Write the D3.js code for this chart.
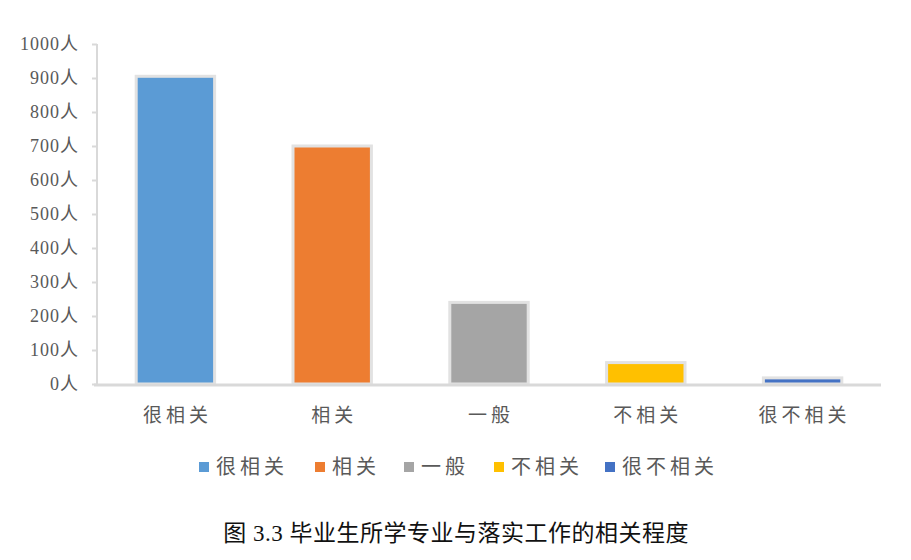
<!DOCTYPE html>
<html>
<head>
<meta charset="utf-8">
<script src="https://cdn.jsdelivr.net/npm/d3@7"></script>
<style>
  body { margin: 0; background: #fff; }
  text { font-family: "Liberation Serif", "Noto Sans CJK SC", serif; }
</style>
</head>
<body>
<div id="chart"></div>
<script>
// data
var categories = ["很相关", "相关", "一般", "不相关", "很不相关"];
var counts = [905, 700, 240, 63, 18];
var colors = ["#5B9BD5", "#ED7D31", "#A5A5A5", "#FFC000", "#4472C4"];
var yTicks = [0, 100, 200, 300, 400, 500, 600, 700, 800, 900, 1000];
var caption = "图 3.3 毕业生所学专业与落实工作的相关程度";

var width = 911, height = 560;
var plot = {left: 97, right: 881, top: 44, bottom: 384};

var svg = d3.select("#chart").append("svg")
    .attr("width", width)
    .attr("height", height);

var x = d3.scaleBand()
    .domain(categories)
    .range([plot.left, plot.right])
    .paddingInner(0.5)
    .paddingOuter(0.25);

var y = d3.scaleLinear()
    .domain([0, 1000])
    .range([plot.bottom, plot.top]);

// y axis
var yAxis = svg.append("g")
    .attr("transform", "translate(" + plot.left + ",0)")
    .call(d3.axisLeft(y).tickValues(yTicks).tickSize(5).tickPadding(6)
          .tickFormat(function(d) { return d + "人"; }));
yAxis.selectAll("line").attr("stroke", "#d9d9d9").attr("stroke-width", 2);
yAxis.select(".domain").attr("stroke", "#d9d9d9").attr("stroke-width", 2).attr("d", "M0," + plot.top + "V" + plot.bottom);
yAxis.selectAll("text")
    .attr("fill", "#595959")
    .style("font-size", "18px")
    .style("letter-spacing", "1px")
    .attr("dx", "-7");

// bars, with the light border the original has
svg.append("g").selectAll("rect")
    .data(categories)
    .enter().append("rect")
    .attr("x", function(d) { return x(d); })
    .attr("y", function(d, i) { return y(counts[i]); })
    .attr("width", x.bandwidth())
    .attr("height", function(d, i) { return plot.bottom - y(counts[i]); })
    .attr("fill", function(d, i) { return colors[i]; })
    .attr("stroke", "#e2e2e2")
    .attr("stroke-width", 3);

// x axis baseline
svg.append("line")
    .attr("x1", plot.left - 3).attr("x2", plot.right)
    .attr("y1", plot.bottom + 1).attr("y2", plot.bottom + 1)
    .attr("stroke", "#d9d9d9")
    .attr("stroke-width", 3);

// category labels
svg.append("g").selectAll("text")
    .data(categories)
    .enter().append("text")
    .attr("x", function(d) { return x(d) + x.bandwidth() / 2 + 2; })
    .attr("y", 422)
    .attr("text-anchor", "middle")
    .attr("fill", "#595959")
    .style("font-size", "19px")
    .style("letter-spacing", "4px")
    .text(function(d) { return d; });

// legend
var legendX = [199, 315, 404, 494, 605];
var legend = svg.append("g").selectAll("g")
    .data(categories)
    .enter().append("g")
    .attr("transform", function(d, i) { return "translate(" + legendX[i] + ",467)"; });
legend.append("rect")
    .attr("x", 0).attr("y", -5)
    .attr("width", 10).attr("height", 10)
    .attr("fill", function(d, i) { return colors[i]; });
legend.append("text")
    .attr("x", 17).attr("y", 7)
    .attr("fill", "#595959")
    .style("font-size", "20px")
    .style("letter-spacing", "4px")
    .text(function(d) { return d; });

// caption under the chart
svg.append("text")
    .attr("x", 456)
    .attr("y", 541)
    .attr("text-anchor", "middle")
    .attr("fill", "#111")
    .style("font-size", "23px")
    .style("letter-spacing", "0.5px")
    .text(caption);
</script>
</body>
</html>
